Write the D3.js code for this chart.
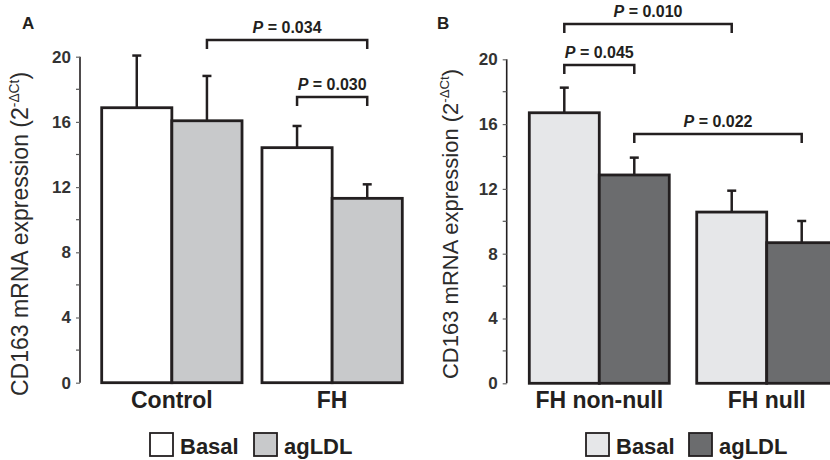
<!DOCTYPE html>
<html lang="en">
<head>
<meta charset="utf-8">
<script src="https://cdn.jsdelivr.net/npm/d3@7"></script>
<style>
  body { margin: 0; background: #fff; }
  svg { display: block; font-family: "Liberation Sans", Arial, sans-serif; }
</style>
</head>
<body>
<script>
// data (mean, upper SD)
var seriesNames = ["Basal", "agLDL"];
var tickValues = [0, 4, 8, 12, 16, 20];
var minorTicks = [2, 6, 10, 14, 18];

var groupsA = ["Control", "FH"];
var basalA = [16.87, 14.42];
var basalErrA = [3.2, 1.33];
var agldlA = [16.07, 11.31];
var agldlErrA = [2.75, 0.86];

var groupsB = ["FH non-null", "FH null"];
var basalB = [16.7, 10.57];
var basalErrB = [1.55, 1.32];
var agldlB = [12.86, 8.68];
var agldlErrB = [1.07, 1.34];

// comparisons: [group, series] -> [group, series], label
var pairsA = [
  {from: [0, 1], to: [1, 1], p: "0.034", level: 0},
  {from: [1, 0], to: [1, 1], p: "0.030", level: 1}
];
var pairsB = [
  {from: [0, 0], to: [1, 0], p: "0.010", level: 0},
  {from: [0, 0], to: [0, 1], p: "0.045", level: 1},
  {from: [0, 1], to: [1, 1], p: "0.022", level: 2}
];

var w = 830, h = 460;
var ink = "#231f20";

var svg = d3.select("body").append("svg")
  .attr("width", w)
  .attr("height", h);

function drawPanel(opt) {
  var g = svg.append("g");

  var y = d3.scaleLinear().domain([0, 20]).range(opt.yRange);
  var x0 = d3.scaleBand().domain(opt.groups).range(opt.xRange)
    .paddingInner(opt.pad).paddingOuter(0);
  var x1 = d3.scaleBand().domain(seriesNames).range([0, x0.bandwidth()]);

  // build rows from the arrays
  var rows = [];
  opt.groups.forEach(function(gr, i) {
    rows.push({group: gr, s: "Basal", v: opt.basal[i], e: opt.basalErr[i]});
    rows.push({group: gr, s: "agLDL", v: opt.agldl[i], e: opt.agldlErr[i]});
  });
  function cx(d) { return x0(d.group) + x1(d.s) + x1.bandwidth() / 2; }

  // error bars (upper only)
  g.selectAll(".err").data(rows).enter().append("line")
    .attr("x1", cx).attr("x2", cx)
    .attr("y1", function(d) { return y(d.v); })
    .attr("y2", function(d) { return y(d.v + d.e); })
    .attr("stroke", ink).attr("stroke-width", 2.5);
  g.selectAll(".cap").data(rows).enter().append("line")
    .attr("x1", function(d) { return cx(d) - 4.5; })
    .attr("x2", function(d) { return cx(d) + 4.5; })
    .attr("y1", function(d) { return y(d.v + d.e); })
    .attr("y2", function(d) { return y(d.v + d.e); })
    .attr("stroke", ink).attr("stroke-width", 2.5);

  // bars
  g.selectAll(".bar").data(rows).enter().append("rect")
    .attr("x", function(d) { return x0(d.group) + x1(d.s); })
    .attr("y", function(d) { return y(d.v); })
    .attr("width", x1.bandwidth())
    .attr("height", function(d) { return y(0) - y(d.v); })
    .attr("fill", function(d) { return opt.colors[d.s]; })
    .attr("stroke", ink).attr("stroke-width", 2.8);

  // y axis
  var axis = g.append("g")
    .attr("transform", "translate(" + opt.axisX + ",0)")
    .call(d3.axisLeft(y).tickValues(tickValues).tickSize(4).tickPadding(5).tickFormat(d3.format("d")));
  axis.select(".domain").attr("stroke", ink).attr("stroke-width", 1.6)
    .attr("d", "M0," + y(20) + "V" + y(0));
  axis.selectAll(".tick line").attr("stroke", "#666").attr("stroke-width", 1.2);
  axis.selectAll(".tick text")
    .attr("font-family", "Liberation Sans, Arial, sans-serif")
    .attr("font-size", "17px").attr("font-weight", "bold").attr("fill", "#333");
  g.selectAll(".minor").data(minorTicks).enter().append("line")
    .attr("x1", opt.axisX - 4).attr("x2", opt.axisX)
    .attr("y1", function(d) { return y(d); })
    .attr("y2", function(d) { return y(d); })
    .attr("stroke", "#555").attr("stroke-width", 1.2);

  // y label
  var lab = g.append("text")
    .attr("transform", "translate(" + opt.labX + "," + opt.labY + ") rotate(-90)")
    .attr("text-anchor", "middle")
    .attr("font-size", opt.labSize + "px")
    .attr("fill", "#2b2b2b");
  lab.append("tspan").text("CD163 mRNA expression (2");
  lab.append("tspan").text("-\u0394Ct").attr("font-size", (opt.labSize * 0.6) + "px").attr("dy", -opt.labSize * 0.4);
  lab.append("tspan").text(")").attr("dy", opt.labSize * 0.4);

  // category labels
  g.selectAll(".cat").data(opt.groups).enter().append("text")
    .attr("x", function(d) { return x0(d) + x0.bandwidth() / 2; })
    .attr("y", 408)
    .attr("text-anchor", "middle")
    .attr("font-size", "23px").attr("font-weight", "bold")
    .attr("fill", ink)
    .text(function(d) { return d; });

  // significance brackets
  opt.pairs.forEach(function(p) {
    var xa = x0(opt.groups[p.from[0]]) + x1(seriesNames[p.from[1]]) + x1.bandwidth() / 2;
    var xb = x0(opt.groups[p.to[0]]) + x1(seriesNames[p.to[1]]) + x1.bandwidth() / 2;
    var yb = opt.bracketY[p.level];
    g.append("path")
      .attr("d", "M" + xa + "," + (yb + 9) + "V" + yb + "H" + xb + "V" + (yb + 9))
      .attr("fill", "none").attr("stroke", ink).attr("stroke-width", 2.5);
    var t = g.append("text")
      .attr("x", (xa + xb) / 2).attr("y", yb - 7)
      .attr("text-anchor", "middle")
      .attr("font-size", "16px").attr("font-weight", "bold").attr("fill", ink);
    t.append("tspan").text("P").attr("font-style", "italic");
    t.append("tspan").text(" = " + p.p);
  });

  // panel letter
  g.append("text").attr("x", opt.letterX).attr("y", 29)
    .attr("font-size", "17px").attr("font-weight", "bold").attr("fill", ink)
    .text(opt.letter);

  // legend
  var leg = g.selectAll(".leg").data(seriesNames).enter().append("g")
    .attr("transform", function(d, i) { return "translate(" + opt.legX[i] + ",433)"; });
  leg.append("rect").attr("width", 23).attr("height", 23)
    .attr("fill", function(d) { return opt.colors[d]; })
    .attr("stroke", ink).attr("stroke-width", 1.8);
  leg.append("text").attr("x", 30).attr("y", 21)
    .attr("font-size", "22px").attr("font-weight", "bold").attr("fill", ink)
    .text(function(d) { return d; });
}

drawPanel({
  letter: "A", letterX: 22,
  groups: groupsA, basal: basalA, basalErr: basalErrA, agldl: agldlA, agldlErr: agldlErrA,
  pairs: pairsA, bracketY: [40, 97],
  yRange: [382.7, 56.7], xRange: [101.7, 402.3], pad: 0.1245,
  axisX: 80, labX: 28, labY: 234, labSize: 23,
  colors: {Basal: "#ffffff", agLDL: "#c8c9cb"},
  legX: [150, 254]
});

drawPanel({
  letter: "B", letterX: 437,
  groups: groupsB, basal: basalB, basalErr: basalErrB, agldl: agldlB, agldlErr: agldlErrB,
  pairs: pairsB, bracketY: [24, 65, 134],
  yRange: [383.3, 59.3], xRange: [529.3, 836.7], pad: 0.164,
  axisX: 506.7, labX: 458, labY: 224, labSize: 22,
  colors: {Basal: "#e6e7e9", agLDL: "#6b6c6e"},
  legX: [586, 689]
});
</script>
</body>
</html>
